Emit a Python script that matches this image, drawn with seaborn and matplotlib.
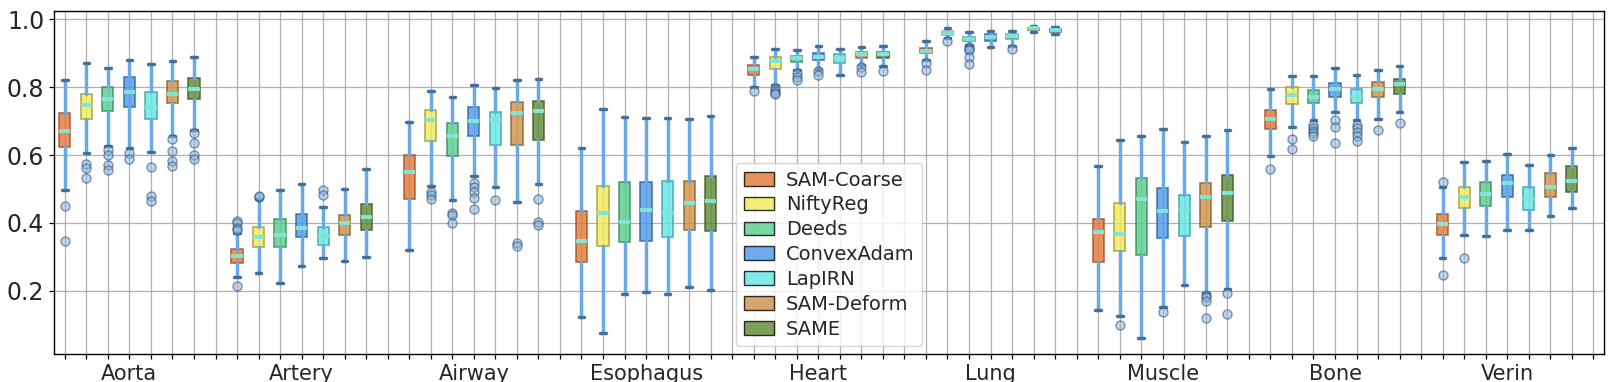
import matplotlib
matplotlib.use('Agg')
import matplotlib.pyplot as plt
import seaborn as sns
from matplotlib.patches import Patch

organs = ['Aorta', 'Artery', 'Airway', 'Esophagus', 'Heart', 'Lung', 'Muscle', 'Bone', 'Verin']
methods = ['SAM-Coarse', 'NiftyReg', 'Deeds', 'ConvexAdam', 'LapIRN', 'SAM-Deform', 'SAME']
face_colors = ['#e27736', '#f0ea55', '#55cc8a', '#4a98ea', '#62e6e6', '#cc9048', '#5c8a34']
edge_colors = ['#a04f20', '#a09a30', '#358a5a', '#2c5f9a', '#35a0a0', '#8a6020', '#3a5a20']

# per method: [whislo, q1, median, q3, whishi]
aorta = [[0.497, 0.624, 0.671, 0.725, 0.821], [0.605, 0.707, 0.747, 0.779, 0.872],
         [0.627, 0.729, 0.766, 0.799, 0.856], [0.620, 0.741, 0.785, 0.831, 0.879],
         [0.608, 0.707, 0.741, 0.787, 0.868], [0.655, 0.753, 0.779, 0.818, 0.876],
         [0.674, 0.766, 0.794, 0.828, 0.888]]
aorta_out = [[0.450, 0.347], [0.574, 0.563, 0.532], [0.615, 0.601, 0.571, 0.556],
             [0.606, 0.589], [0.565, 0.480, 0.465], [0.647, 0.612, 0.583, 0.568],
             [0.664, 0.636, 0.601, 0.588]]

artery = [[0.240, 0.281, 0.303, 0.323, 0.370], [0.252, 0.329, 0.358, 0.387, 0.470],
          [0.223, 0.330, 0.365, 0.411, 0.496], [0.274, 0.358, 0.385, 0.426, 0.515],
          [0.296, 0.336, 0.362, 0.387, 0.447], [0.287, 0.364, 0.399, 0.425, 0.500],
          [0.299, 0.380, 0.419, 0.455, 0.558]]
artery_out = [[0.406, 0.400, 0.384, 0.380, 0.215], [0.478, 0.480], [], [],
              [0.498, 0.482], [], []]

airway = [[0.320, 0.471, 0.550, 0.599, 0.697], [0.509, 0.642, 0.703, 0.734, 0.788],
          [0.467, 0.597, 0.656, 0.694, 0.770], [0.538, 0.657, 0.700, 0.741, 0.806],
          [0.505, 0.629, 0.703, 0.728, 0.797], [0.461, 0.629, 0.723, 0.756, 0.820],
          [0.514, 0.645, 0.730, 0.758, 0.823]]
airway_out = [[], [0.490, 0.483, 0.472], [0.429, 0.424, 0.399],
              [0.519, 0.505, 0.492, 0.475, 0.442], [0.468], [0.341, 0.331],
              [0.471, 0.402, 0.394]]

esophagus = [[0.122, 0.284, 0.346, 0.434, 0.620], [0.075, 0.333, 0.429, 0.510, 0.735],
             [0.190, 0.344, 0.402, 0.522, 0.712], [0.196, 0.346, 0.438, 0.522, 0.709],
             [0.190, 0.358, 0.429, 0.525, 0.709], [0.211, 0.379, 0.458, 0.525, 0.706],
             [0.203, 0.376, 0.464, 0.537, 0.714]]
esophagus_out = [[], [], [], [], [], [], []]

heart = [[0.800, 0.836, 0.853, 0.864, 0.888], [0.807, 0.854, 0.878, 0.890, 0.912],
         [0.851, 0.874, 0.885, 0.893, 0.908], [0.853, 0.879, 0.890, 0.900, 0.921],
         [0.835, 0.871, 0.885, 0.897, 0.912], [0.866, 0.885, 0.897, 0.903, 0.918],
         [0.861, 0.885, 0.897, 0.903, 0.921]]
heart_out = [[0.790], [0.797, 0.789, 0.784, 0.780], [0.841, 0.831, 0.820],
             [0.846, 0.835], [], [0.858, 0.845], [0.848]]

lung = [[0.881, 0.899, 0.907, 0.915, 0.935], [0.944, 0.954, 0.960, 0.965, 0.973],
        [0.924, 0.936, 0.943, 0.949, 0.961], [0.917, 0.935, 0.947, 0.955, 0.965],
        [0.922, 0.942, 0.951, 0.957, 0.965], [0.962, 0.969, 0.973, 0.975, 0.980],
        [0.957, 0.963, 0.968, 0.971, 0.977]]
lung_out = [[0.871, 0.851], [0.935], [0.917, 0.912, 0.908, 0.888, 0.868], [],
            [0.912], [], []]

muscle = [[0.144, 0.284, 0.373, 0.413, 0.567], [0.125, 0.318, 0.368, 0.460, 0.644],
          [0.062, 0.306, 0.470, 0.532, 0.656], [0.152, 0.356, 0.435, 0.502, 0.676],
          [0.217, 0.362, 0.441, 0.482, 0.638], [0.193, 0.389, 0.476, 0.519, 0.656],
          [0.205, 0.405, 0.488, 0.540, 0.673]]
muscle_out = [[], [0.099], [], [0.138], [], [0.187, 0.181, 0.170, 0.121],
              [0.193, 0.131]]

bone = [[0.597, 0.676, 0.707, 0.732, 0.794], [0.682, 0.750, 0.776, 0.799, 0.832],
        [0.703, 0.753, 0.770, 0.791, 0.832], [0.726, 0.770, 0.794, 0.812, 0.856],
        [0.704, 0.753, 0.772, 0.794, 0.835], [0.707, 0.770, 0.794, 0.815, 0.850],
        [0.726, 0.779, 0.809, 0.823, 0.863]]
bone_out = [[0.558], [0.648, 0.617], [0.689, 0.679, 0.672, 0.664, 0.655],
            [0.702, 0.682, 0.635], [0.689, 0.679, 0.669, 0.657, 0.642], [0.674],
            [0.694]]

verin = [[0.296, 0.364, 0.396, 0.426, 0.505], [0.364, 0.443, 0.476, 0.505, 0.579],
         [0.361, 0.449, 0.485, 0.520, 0.582], [0.379, 0.476, 0.517, 0.541, 0.603],
         [0.379, 0.438, 0.470, 0.505, 0.570], [0.420, 0.476, 0.505, 0.547, 0.600],
         [0.443, 0.491, 0.523, 0.567, 0.620]]
verin_out = [[0.521, 0.246], [0.296], [], [], [], [], []]

all_stats = [aorta, artery, airway, esophagus, heart, lung, muscle, bone, verin]
all_out = [aorta_out, artery_out, airway_out, esophagus_out, heart_out, lung_out,
           muscle_out, bone_out, verin_out]

sns.set_style('whitegrid', {'axes.edgecolor': 'black', 'grid.color': '#b0b0b0',
                            'xtick.bottom': True, 'ytick.left': True})

fig = plt.figure(figsize=(16.13, 3.82), dpi=100)
ax = fig.add_axes([0.0335, 0.073, 0.961, 0.899])

# 7 boxes per organ, then one empty slot
slot = len(methods) + 1
for g, (stats, outs) in enumerate(zip(all_stats, all_out)):
    for j, (s, fl) in enumerate(zip(stats, outs)):
        d = {'whislo': s[0], 'q1': s[1], 'med': s[2], 'q3': s[3], 'whishi': s[4],
             'fliers': fl}
        ax.bxp([d], positions=[g * slot + j], widths=0.52, patch_artist=True,
               manage_ticks=False,
               boxprops=dict(facecolor=face_colors[j], edgecolor=edge_colors[j],
                             alpha=0.8, linewidth=1.2),
               medianprops=dict(color='#7fe6d6', linewidth=2.8),
               whiskerprops=dict(color='#6aaae2', linewidth=2.5),
               capprops=dict(color='#44709a', linewidth=2.5),
               flierprops=dict(marker='o', markersize=6.5, markerfacecolor='#88b4e4',
                               markeredgecolor='#2e4a68', alpha=0.55))

n_slots = len(organs) * slot
ax.set_xlim(-0.5, n_slots - 0.5)
ax.set_ylim(0.014, 1.025)
ax.set_xticks(range(n_slots))
ax.set_xticklabels([organs[i // slot] if i % slot == 3 else '' for i in range(n_slots)],
                   fontsize=15)
ax.set_yticks([0.2, 0.4, 0.6, 0.8, 1.0])
ax.set_yticklabels(['0.2', '0.4', '0.6', '0.8', '1.0'], fontsize=17)
ax.tick_params(axis='both', length=3.5, width=0.9, color='black', pad=3.5)
ax.grid(True, color='#b0b0b0', linewidth=0.9)
for sp in ax.spines.values():
    sp.set_color('black')
    sp.set_linewidth(1.0)

handles = [Patch(facecolor=c, edgecolor='black', alpha=0.8, label=m)
           for c, m in zip(face_colors, methods)]
ax.legend(handles=handles, loc='lower center', fontsize=14, frameon=True,
          borderpad=0.4, labelspacing=0.3, handlelength=1.55, handletextpad=0.6,
          borderaxespad=0.4)

fig.savefig('out.png', dpi=100)
